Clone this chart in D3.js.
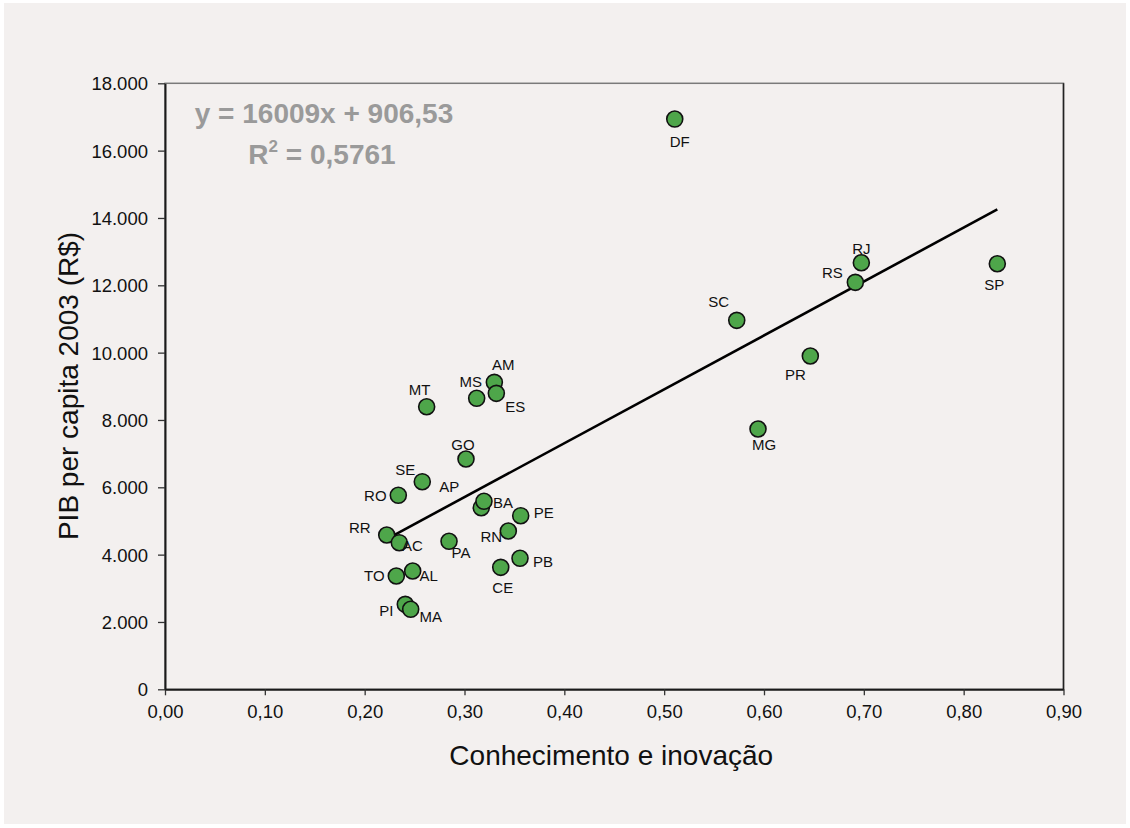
<!DOCTYPE html>
<html>
<head>
<meta charset="utf-8">
<script src="https://cdn.jsdelivr.net/npm/d3@7"></script>
<style>
  html, body { margin: 0; padding: 0; background: #ffffff; }
  svg { display: block; }
</style>
</head>
<body>
<svg id="chart" width="1130" height="828"></svg>
<script>
// ---- data ----
const states = ["MT","MS","AM","ES","GO","SE","AP","RO","BA","PE","RN","RR","AC","PA","PB","CE","TO","AL","PI","MA","DF","RJ","RS","SP","SC","PR","MG"];
const conhecimento = [0.2621,0.3122,0.3299,0.3319,0.3015,0.2577,0.3168,0.2337,0.3195,0.3563,0.3439,0.2221,0.2347,0.2845,0.3556,0.3363,0.2317,0.2481,0.2407,0.2461,0.5106,0.6975,0.6915,0.8337,0.5727,0.6464,0.5940];
const pibPerCapita = [8393,8643,9118,8791,6840,6166,5394,5762,5584,5156,4702,4583,4354,4396,3891,3623,3365,3514,2524,2376,16938,12670,12088,12640,10959,9899,7731];
const xTicks = [0,0.1,0.2,0.3,0.4,0.5,0.6,0.7,0.8,0.9];
const yTicks = [0,2000,4000,6000,8000,10000,12000,14000,16000,18000];
const trendSlope = 16009, trendIntercept = 906.53;
const equationText = "y = 16009x + 906,53";
const r2Text = "0,5761";
const xTitle = "Conhecimento e inovação";
const yTitle = "PIB per capita 2003 (R$)";

// label placement offsets (layout only)
const labelOffsets = {
  AM:[9,-18], MS:[-6,-17], MT:[-7,-17], ES:[19,13], GO:[-3,-14], SE:[-17,-12],
  AP:[-32,-21], RO:[-23,0], BA:[19,1], PE:[23,-3], RN:[-17,6], RR:[-27,-7],
  AC:[13,3], PA:[12,11], PB:[23,3], CE:[2,20], TO:[-22,0], AL:[16,5],
  PI:[-19,6], MA:[20,7], DF:[5,23], RJ:[0,-14], RS:[-23,-10], SP:[-3,21],
  SC:[-18,-19], PR:[-15,19], MG:[6,16]
};

const svg = d3.select("#chart");
const W = 1130, H = 828;
const m = {left:165, right:1063.5, top:83.3, bottom:689.3};

svg.append("rect").attr("x",4).attr("y",3).attr("width",W-8).attr("height",H-4-3)
  .attr("fill","#f3f0ef");

const x = d3.scaleLinear().domain([0,0.9]).range([m.left,m.right]);
const y = d3.scaleLinear().domain([0,18000]).range([m.bottom,m.top]);

const fmtX = d3.formatLocale({decimal:",", thousands:".", grouping:[3], currency:["R$",""]});
const fx = fmtX.format(".2f");
const fy = fmtX.format(",.0f");

// plot frame
svg.append("rect").attr("x",m.left).attr("y",m.top)
  .attr("width",m.right-m.left).attr("height",m.bottom-m.top)
  .attr("fill","none").attr("stroke","#7a7a7a").attr("stroke-width",1.5);
svg.append("line").attr("x1",m.right).attr("x2",m.right).attr("y1",m.top).attr("y2",m.bottom)
  .attr("stroke","#222").attr("stroke-width",1.5);

// axes
const xAxis = d3.axisBottom(x).tickValues(xTicks).tickFormat(fx).tickSize(6).tickPadding(10).tickSizeOuter(0);
const yAxis = d3.axisLeft(y).tickValues(yTicks).tickFormat(fy).tickSize(7).tickPadding(10).tickSizeOuter(0);

const gx = svg.append("g").attr("transform",`translate(0,${m.bottom})`).call(xAxis);
const gy = svg.append("g").attr("transform",`translate(${m.left},0)`).call(yAxis);
[gx,gy].forEach(g=>{
  g.select(".domain").attr("stroke","#1a1a1a").attr("stroke-width",2);
  g.selectAll(".tick line").attr("stroke","#333").attr("stroke-width",1.3);
  g.selectAll(".tick text").attr("fill","#111")
    .style("font-family","'Liberation Sans', Arial, sans-serif").style("font-size","18.5px");
});
gy.selectAll(".tick text").attr("dy","0.36em");

// axis titles
svg.append("text").attr("x",(m.left+m.right)/2 - 3).attr("y",765)
  .attr("text-anchor","middle").attr("fill","#111")
  .style("font-family","'Liberation Sans', Arial, sans-serif").style("font-size","28px")
  .text(xTitle);
svg.append("text").attr("transform",`translate(78,386) rotate(-90)`)
  .attr("text-anchor","middle").attr("fill","#111")
  .style("font-family","'Liberation Sans', Arial, sans-serif").style("font-size","28px")
  .text(yTitle);

// trend line
const xmin = d3.min(conhecimento), xmax = d3.max(conhecimento);
svg.append("line")
  .attr("x1",x(xmin)).attr("y1",y(trendSlope*xmin+trendIntercept))
  .attr("x2",x(xmax)).attr("y2",y(trendSlope*xmax+trendIntercept))
  .attr("stroke","#000").attr("stroke-width",2.6);

// points
const data = states.map((s,i)=>({s, x:conhecimento[i], y:pibPerCapita[i]}));
svg.append("g").selectAll("circle").data(data).join("circle")
  .attr("cx",d=>x(d.x)).attr("cy",d=>y(d.y)).attr("r",8)
  .attr("fill","#4ea64a").attr("stroke","#111").attr("stroke-width",1.6);

// labels
svg.append("g").selectAll("text").data(data).join("text")
  .attr("x",d=>x(d.x)+labelOffsets[d.s][0])
  .attr("y",d=>y(d.y)+labelOffsets[d.s][1])
  .attr("dy","0.36em")
  .attr("text-anchor","middle").attr("fill","#111")
  .style("font-family","'Liberation Sans', Arial, sans-serif").style("font-size","15px")
  .text(d=>d.s);

// equation
const eqStyle = t => t.attr("text-anchor","middle").attr("fill","#9a9a9a")
  .style("font-family","'Liberation Sans', Arial, sans-serif").style("font-size","28px").style("font-weight","bold");
svg.append("text").attr("x",324).attr("y",123).call(eqStyle).text(equationText);
const r2 = svg.append("text").attr("x",322).attr("y",164).call(eqStyle);
r2.append("tspan").text("R");
r2.append("tspan").attr("dy",-12).style("font-size","17px").text("2");
r2.append("tspan").attr("dy",12).text(" = " + r2Text);
</script>
</body>
</html>
